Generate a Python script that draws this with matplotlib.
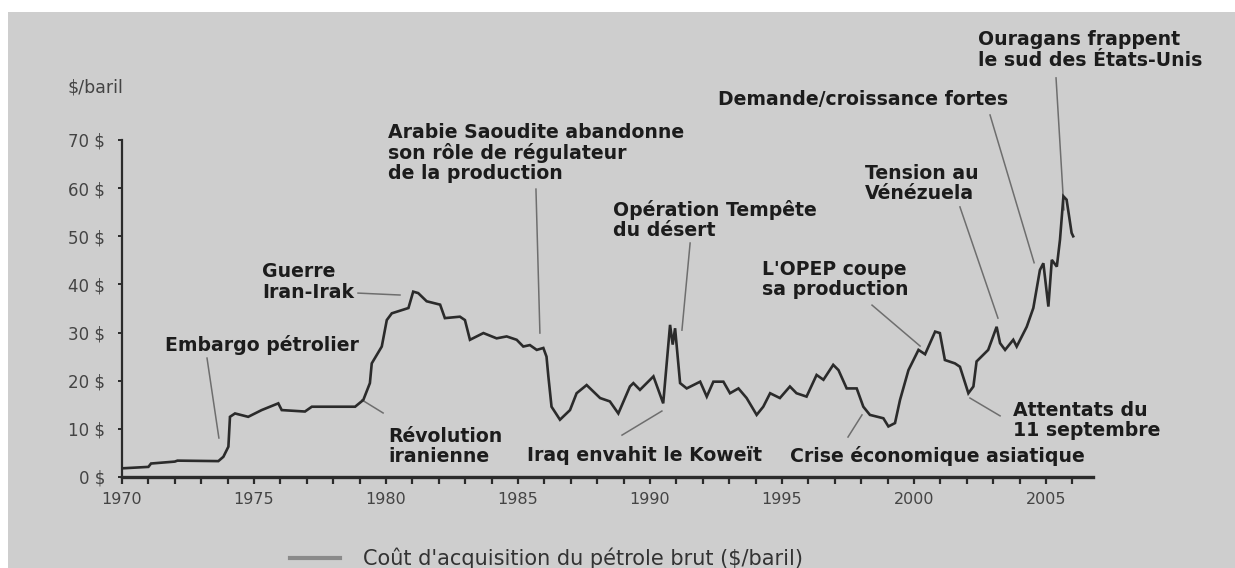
import matplotlib
matplotlib.use("Agg")
import matplotlib.pyplot as plt
from matplotlib.patches import Rectangle
from matplotlib.lines import Line2D

# ---- data ----
years = [1970.0, 1971.0, 1971.1, 1972.0, 1972.1, 1973.65, 1973.84, 1974.03, 1974.09, 1974.28,
         1974.78, 1975.29, 1975.92, 1976.05, 1976.93, 1977.19, 1978.83, 1979.14, 1979.39, 1979.46,
         1979.84, 1980.03, 1980.22, 1980.85, 1981.03, 1981.22, 1981.54, 1982.05, 1982.23, 1982.8,
         1982.99, 1983.18, 1983.69, 1984.19, 1984.57, 1984.95, 1985.2, 1985.45, 1985.71, 1985.96,
         1986.08, 1986.15, 1986.27, 1986.59, 1986.97, 1987.22, 1987.6, 1988.11, 1988.48, 1988.8,
         1989.24, 1989.37, 1989.62, 1990.13, 1990.5, 1990.76, 1990.86, 1990.95, 1991.14, 1991.39,
         1991.9, 1992.15, 1992.4, 1992.78, 1993.03, 1993.35, 1993.66, 1994.04, 1994.29, 1994.55,
         1994.92, 1995.3, 1995.55, 1995.93, 1996.31, 1996.57, 1996.94, 1997.14, 1997.45, 1997.83,
         1998.08, 1998.33, 1998.84, 1999.03, 1999.28, 1999.47, 1999.79, 2000.17, 2000.42, 2000.8,
         2000.98, 2001.17, 2001.55, 2001.74, 2002.06, 2002.25, 2002.37, 2002.81, 2003.13, 2003.26,
         2003.45, 2003.76, 2003.89, 2004.27, 2004.52, 2004.77, 2004.9, 2005.09, 2005.22, 2005.41,
         2005.53, 2005.66, 2005.78, 2005.97, 2006.03]
prices = [1.8, 2.1, 2.8, 3.2, 3.4, 3.3, 4.2, 6.3, 12.5, 13.2,
          12.5, 13.9, 15.3, 13.9, 13.6, 14.6, 14.6, 16.0, 19.5, 23.6,
          27.1, 32.6, 34.0, 35.1, 38.5, 38.2, 36.5, 35.8, 33.0, 33.3,
          32.6, 28.5, 29.9, 28.8, 29.2, 28.5, 27.1, 27.4, 26.4, 26.8,
          25.0, 20.9, 14.6, 11.9, 13.9, 17.4, 19.1, 16.4, 15.7, 13.2,
          18.8, 19.5, 18.1, 20.9, 15.3, 31.6, 27.5, 30.9, 19.5, 18.4,
          19.8, 16.7, 19.8, 19.8, 17.4, 18.4, 16.4, 12.9, 14.6, 17.4,
          16.4, 18.8, 17.4, 16.7, 21.2, 20.2, 23.3, 22.2, 18.4, 18.4,
          14.6, 12.9, 12.2, 10.5, 11.2, 16.0, 22.2, 26.4, 25.5, 30.2,
          29.9, 24.3, 23.6, 22.9, 17.4, 18.8, 24.0, 26.4, 31.2, 27.8,
          26.4, 28.5, 27.1, 31.2, 35.1, 43.0, 44.4, 35.4, 45.1, 43.7,
          49.3, 58.3, 57.6, 50.7, 50.0]

x_major = [1970, 1975, 1980, 1985, 1990, 1995, 2000, 2005]
x_minor = list(range(1970, 2007))
y_ticks = [0, 10, 20, 30, 40, 50, 60, 70]
y_labels = ["0 $", "10 $", "20 $", "30 $", "40 $", "50 $", "60 $", "70 $"]
y_unit = "$/baril"
legend_label = "Coût d'acquisition du pétrole brut ($/baril)"

# events: text, text anchor (year, value), leader line start, leader line end
events = [
    ("Embargo pétrolier", (1971.63, 27.4), (1973.22, 24.7), (1973.67, 8.1)),
    ("Guerre\nIran-Irak", (1975.30, 40.5), (1978.94, 38.2), (1980.53, 37.8)),
    ("Révolution\niranienne", (1980.08, 6.4), (1979.89, 13.3), (1979.09, 16.0)),
    ("Arabie Saoudite abandonne\nson rôle de régulateur\nde la production", (1980.08, 67.3), (1985.68, 59.8), (1985.83, 29.9)),
    ("Opération Tempête\ndu désert", (1988.6, 53.4), (1991.52, 48.6), (1991.21, 30.5)),
    ("Iraq envahit le Koweït", (1985.34, 4.4), (1988.94, 8.7), (1990.45, 13.7)),
    ("L'OPEP coupe\nsa production", (1994.24, 41.1), (1998.41, 35.7), (2000.23, 27.2)),
    ("Crise économique asiatique", (1995.30, 4.4), (1997.5, 8.3), (1998.03, 12.9)),
    ("Tension au\nVénézuela", (1998.14, 60.9), (2001.74, 56.1), (2003.18, 33.0)),
    ("Demande/croissance fortes", (1992.58, 78.5), (2002.88, 75.2), (2004.55, 44.5)),
    ("Ouragans frappent\nle sud des États-Unis", (2002.42, 88.7), (2005.38, 82.9), (2005.68, 55.5)),
    ("Attentats du\n11 septembre", (2003.75, 11.8), (2003.26, 12.7), (2002.12, 16.4)),
]

# ---- figure ----
W, H = 1235, 568
fig = plt.figure(figsize=(W / 100, H / 100), dpi=100, facecolor="white")
fig.patches.append(Rectangle((8 / W, 0), 1 - 8 / W, (H - 12) / H, transform=fig.transFigure,
                             facecolor="#cecece", edgecolor="none", zorder=-10))

ax = fig.add_axes([122 / W, (H - 477) / H, (1093 - 122) / W, (477 - 140) / H])
ax.set_facecolor("none")
ax.set_zorder(5)
ax.set_xlim(1970, 1970 + (1093 - 122) / 26.4)
ax.set_ylim(0, 70)

dark = "#2b2b2b"
ax.plot(years, prices, color=dark, lw=1.9, zorder=3, solid_joinstyle="miter")

for s in ["top", "right"]:
    ax.spines[s].set_visible(False)
ax.spines["left"].set_color(dark)
ax.spines["left"].set_linewidth(1.6)
ax.spines["bottom"].set_color(dark)
ax.spines["bottom"].set_linewidth(2.4)

ax.set_xticks(x_major)
ax.set_xticks(x_minor, minor=True)
ax.set_xticklabels([str(v) for v in x_major])
ax.set_yticks(y_ticks)
ax.set_yticklabels(y_labels)
ax.tick_params(axis="x", which="both", direction="out", length=5, width=1.6, color=dark,
               labelsize=11.5, labelcolor="#444444", pad=6)
ax.tick_params(axis="y", direction="out", length=3, width=1.4, color=dark,
               labelsize=12, labelcolor="#444444", pad=9)

ax.text(1967.92, 81.0, y_unit, fontsize=12.5, color="#444444", va="center", ha="left")

for txt, (tx, ty), p0, p1 in events:
    ax.plot([p0[0], p1[0]], [p0[1], p1[1]], color="#6e6e6e", lw=1.1, clip_on=False, zorder=2)
    ax.text(tx, ty, txt, fontsize=13.6, fontweight="bold", color="#1c1c1c", ha="left", va="center",
            linespacing=1.08, clip_on=False, zorder=4)

fig.add_artist(Line2D([290 / W, 340 / W], [(H - 558) / H] * 2, transform=fig.transFigure,
                      color="#8a8a8a", lw=3))
fig.text(363 / W, (H - 558) / H, legend_label, fontsize=15, color="#333333", va="center", ha="left")

fig.savefig("out.png", dpi=100, facecolor="white")
